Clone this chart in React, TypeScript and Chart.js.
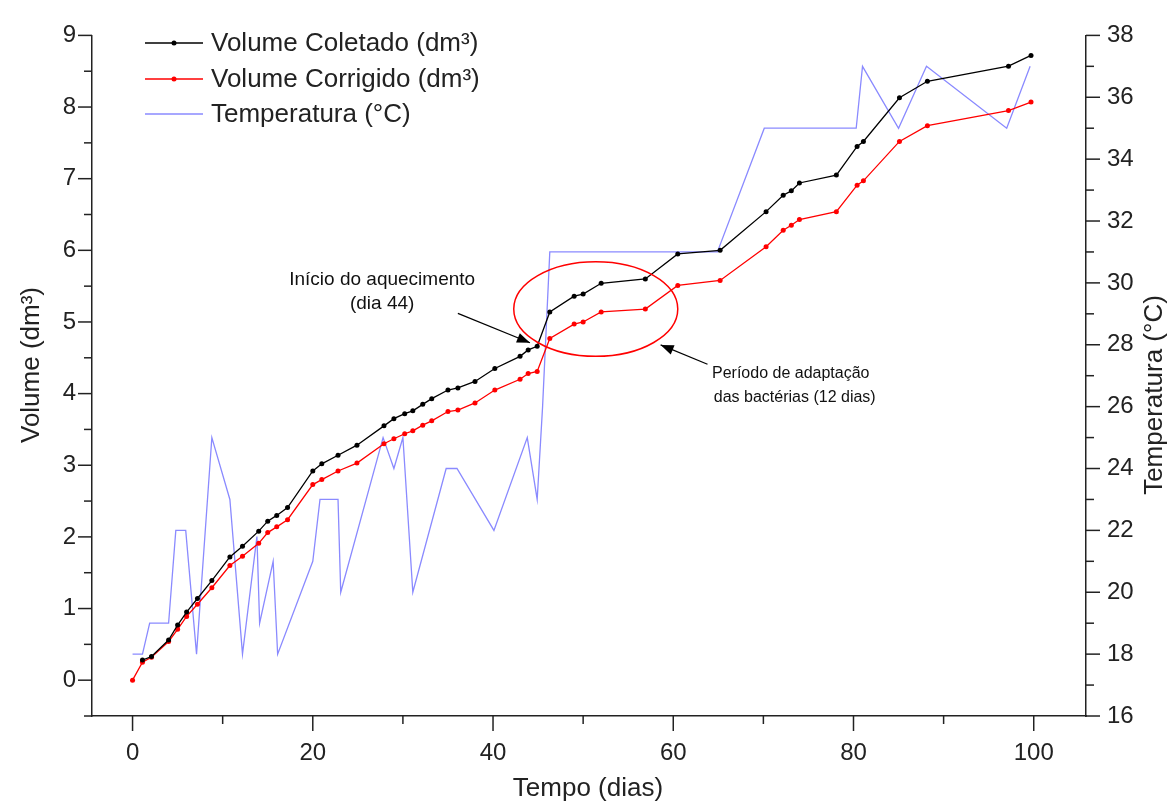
import React, { useEffect, useRef } from 'react';
import { Chart, registerables } from 'chart.js';

Chart.register(...registerables);

// ---- Data ----
const days = [1.1, 2.1, 4, 5, 6, 7.2, 8.8, 10.8, 12.2, 14, 15, 16, 17.2, 20, 21, 22.8, 24.9, 27.9, 29, 30.2, 31.1, 32.2, 33.2, 35, 36.1, 38, 40.2, 43, 43.9, 44.9, 46.3, 49, 50, 52, 56.9, 60.5, 65.2, 70.3, 72.2, 73.1, 74, 78.1, 80.4, 81.1, 85.1, 88.2, 97.2, 99.7];
const volumeColetado = [0.28, 0.33, 0.56, 0.77, 0.95, 1.14, 1.39, 1.72, 1.87, 2.08, 2.22, 2.3, 2.41, 2.92, 3.02, 3.14, 3.28, 3.55, 3.65, 3.72, 3.76, 3.85, 3.93, 4.05, 4.08, 4.17, 4.35, 4.52, 4.61, 4.66, 5.14, 5.36, 5.39, 5.54, 5.6, 5.95, 6.0, 6.54, 6.77, 6.83, 6.94, 7.05, 7.45, 7.52, 8.13, 8.36, 8.57, 8.72];
const daysCorrigido = [0, ...days];
const volumeCorrigido = [0, 0.25, 0.32, 0.54, 0.71, 0.89, 1.06, 1.29, 1.6, 1.73, 1.91, 2.06, 2.14, 2.24, 2.73, 2.8, 2.92, 3.03, 3.3, 3.37, 3.44, 3.48, 3.56, 3.62, 3.75, 3.77, 3.87, 4.05, 4.2, 4.28, 4.31, 4.77, 4.97, 5.0, 5.14, 5.18, 5.51, 5.58, 6.05, 6.28, 6.35, 6.43, 6.54, 6.91, 6.97, 7.52, 7.74, 7.95, 8.07];
const tempDays = [0, 1.1, 1.9, 4, 4.8, 5.9, 7.1, 8.8, 10.8, 12.2, 13.8, 14.1, 15.6, 16.1, 20, 20.8, 22.8, 23.1, 27.8, 29, 30, 31.1, 34.8, 36, 40.1, 43.8, 44.9, 45.5, 46.3, 64.9, 70.1, 80.3, 81, 85, 88.1, 97, 99.6];
const temperatura = [18, 18, 19, 19, 22, 22, 18, 25, 23, 18, 21.8, 19, 21, 18, 21, 23, 23, 20, 25, 24, 25, 20, 24, 24, 22, 25, 23, 26, 31, 31, 35, 35, 37, 35, 37, 35, 37];

const xTicks = [0, 20, 40, 60, 80, 100];
const xMinorTicks = [10, 30, 50, 70, 90];
const yTicks = [0, 1, 2, 3, 4, 5, 6, 7, 8, 9];
const yMinorTicks = [-0.5, 0.5, 1.5, 2.5, 3.5, 4.5, 5.5, 6.5, 7.5, 8.5];
const y1Ticks = [16, 18, 20, 22, 24, 26, 28, 30, 32, 34, 36, 38];
const y1MinorTicks = [17, 19, 21, 23, 25, 27, 29, 31, 33, 35, 37];

const seriesNames = ['Volume Coletado (dm³)', 'Volume Corrigido (dm³)', 'Temperatura (°C)'];
const seriesColors = ['#000000', '#ff0000', '#8a8aff'];

const FONT = '"Liberation Sans", Arial, sans-serif';

const toXY = (xs: number[], ys: number[]) => xs.map((x, i) => ({ x, y: ys[i] }));

const decorPlugin = {
  id: 'decor',
  afterDraw(chart: any) {
    const ctx: CanvasRenderingContext2D = chart.ctx;
    const sx = chart.scales.x;
    const sy = chart.scales.y;
    const sy1 = chart.scales.y1;
    const { left, right, bottom } = chart.chartArea;
    ctx.save();
    // tick marks
    ctx.strokeStyle = '#222';
    ctx.lineWidth = 1.5;
    const line = (x0: number, y0: number, x1: number, y1: number) => {
      ctx.beginPath();
      ctx.moveTo(x0, y0);
      ctx.lineTo(x1, y1);
      ctx.stroke();
    };
    xTicks.forEach((v) => { const p = sx.getPixelForValue(v); line(p, bottom, p, bottom + 15); });
    xMinorTicks.forEach((v) => { const p = sx.getPixelForValue(v); line(p, bottom, p, bottom + 8); });
    yTicks.forEach((v) => { const p = sy.getPixelForValue(v); line(left, p, left - 14, p); });
    yMinorTicks.forEach((v) => { const p = sy.getPixelForValue(v); line(left, p, left - 8, p); });
    y1Ticks.forEach((v) => { const p = sy1.getPixelForValue(v); line(right, p, right + 14, p); });
    y1MinorTicks.forEach((v) => { const p = sy1.getPixelForValue(v); line(right, p, right + 8, p); });

    // axis titles
    ctx.fillStyle = '#222';
    ctx.font = `26px ${FONT}`;
    ctx.textAlign = 'center';
    ctx.textBaseline = 'middle';
    ctx.fillText('Tempo (dias)', (left + right) / 2 - 1, 789);
    ctx.save();
    ctx.translate(32, 365);
    ctx.rotate(-Math.PI / 2);
    ctx.fillText('Volume (dm³)', 0, 0);
    ctx.restore();
    ctx.save();
    ctx.translate(1155, 395);
    ctx.rotate(-Math.PI / 2);
    ctx.fillText('Temperatura (°C)', 0, 0);
    ctx.restore();

    // legend
    const rows = [43, 79, 114];
    rows.forEach((ry, i) => {
      ctx.strokeStyle = seriesColors[i];
      ctx.lineWidth = 1.5;
      line(145, ry, 203, ry);
      if (i < 2) {
        ctx.fillStyle = seriesColors[i];
        ctx.beginPath();
        ctx.arc(174, ry, 2.5, 0, Math.PI * 2);
        ctx.fill();
      }
      ctx.fillStyle = '#222';
      ctx.font = `26px ${FONT}`;
      ctx.textAlign = 'left';
      ctx.textBaseline = 'middle';
      ctx.fillText(seriesNames[i], 211, ry + 1);
    });

    // annotations
    const px = (d: number) => sx.getPixelForValue(d);
    const py = (v: number) => sy.getPixelForValue(v);
    ctx.strokeStyle = '#ff0000';
    ctx.lineWidth = 1.5;
    ctx.beginPath();
    const cx = px(51.4), cy = py(5.18);
    ctx.ellipse(cx, cy, px(60.5) - cx, py(4.52) - cy, 0, 0, Math.PI * 2);
    ctx.stroke();

    const arrow = (x0: number, y0: number, x1: number, y1: number) => {
      ctx.strokeStyle = '#000';
      ctx.fillStyle = '#000';
      ctx.lineWidth = 1.2;
      line(x0, y0, x1, y1);
      const a = Math.atan2(y1 - y0, x1 - x0);
      const L = 13, W = 5;
      ctx.beginPath();
      ctx.moveTo(x1, y1);
      ctx.lineTo(x1 - L * Math.cos(a) + W * Math.sin(a), y1 - L * Math.sin(a) - W * Math.cos(a));
      ctx.lineTo(x1 - L * Math.cos(a) - W * Math.sin(a), y1 - L * Math.sin(a) + W * Math.cos(a));
      ctx.closePath();
      ctx.fill();
    };
    arrow(px(36.1), py(5.12), px(44.1), py(4.71));
    arrow(px(63.8), py(4.41), px(58.6), py(4.68));

    ctx.fillStyle = '#111';
    ctx.font = `19px ${FONT}`;
    ctx.textAlign = 'center';
    ctx.textBaseline = 'middle';
    ctx.fillText('Início do aquecimento', px(27.7), py(5.59));
    ctx.fillText('(dia 44)', px(27.7), py(5.26));
    ctx.font = `16px ${FONT}`;
    ctx.textAlign = 'left';
    ctx.fillText('Período de adaptação', px(64.3), py(4.28));
    ctx.fillText('das bactérias (12 dias)', px(64.5), py(3.95));
    ctx.restore();
  },
};

export default function App() {
  const ref = useRef<HTMLCanvasElement | null>(null);
  useEffect(() => {
    if (!ref.current) return;
    const chart = new Chart(ref.current, {
      type: 'line',
      data: {
        datasets: [
          {
            label: seriesNames[0],
            data: toXY(days, volumeColetado),
            borderColor: seriesColors[0],
            backgroundColor: seriesColors[0],
            borderWidth: 1.3,
            pointRadius: 2.5,
            pointBorderWidth: 0,
            yAxisID: 'y',
            order: 1,
          },
          {
            label: seriesNames[1],
            data: toXY(daysCorrigido, volumeCorrigido),
            borderColor: seriesColors[1],
            backgroundColor: seriesColors[1],
            borderWidth: 1.3,
            pointRadius: 2.5,
            pointBorderWidth: 0,
            yAxisID: 'y',
            order: 2,
          },
          {
            label: seriesNames[2],
            data: toXY(tempDays, temperatura),
            borderColor: seriesColors[2],
            backgroundColor: seriesColors[2],
            borderWidth: 1.3,
            pointRadius: 0,
            yAxisID: 'y1',
            order: 3,
          },
        ],
      },
      options: {
        animation: false,
        responsive: false,
        layout: { padding: { top: 25, left: 0, right: 0, bottom: 0 } },
        plugins: { legend: { display: false }, tooltip: { enabled: false } },
        scales: {
          x: {
            type: 'linear',
            min: -4.5,
            max: 105.8,
            afterBuildTicks: (s: any) => { s.ticks = xTicks.map((v) => ({ value: v })); },
            afterFit: (s: any) => { s.height = 89; },
            grid: { display: false, drawTicks: false },
            border: { display: true, color: '#222', width: 1.5 },
            ticks: { padding: 23, color: '#222', font: { size: 24, family: FONT }, maxRotation: 0 },
          },
          y: {
            type: 'linear',
            position: 'left',
            min: -0.5,
            max: 9,
            afterBuildTicks: (s: any) => { s.ticks = yTicks.map((v) => ({ value: v })); },
            afterFit: (s: any) => { s.width = 92; },
            grid: { display: false, drawTicks: false },
            border: { display: true, color: '#222', width: 1.5 },
            ticks: { padding: 16, color: '#222', font: { size: 24, family: FONT } },
          },
          y1: {
            type: 'linear',
            position: 'right',
            min: 16,
            max: 38,
            afterBuildTicks: (s: any) => { s.ticks = y1Ticks.map((v) => ({ value: v })); },
            afterFit: (s: any) => { s.width = 90; },
            grid: { display: false, drawTicks: false },
            border: { display: true, color: '#222', width: 1.5 },
            ticks: { padding: 21, color: '#222', font: { size: 24, family: FONT } },
          },
        },
      },
      plugins: [decorPlugin],
    });
    return () => chart.destroy();
  }, []);
  return (
    <div style={{ position: 'absolute', left: 0, top: 0, width: 1176, height: 805, background: '#fff' }}>
      <canvas ref={ref} width={1176} height={805} style={{ width: 1176, height: 805 }} />
    </div>
  );
}
